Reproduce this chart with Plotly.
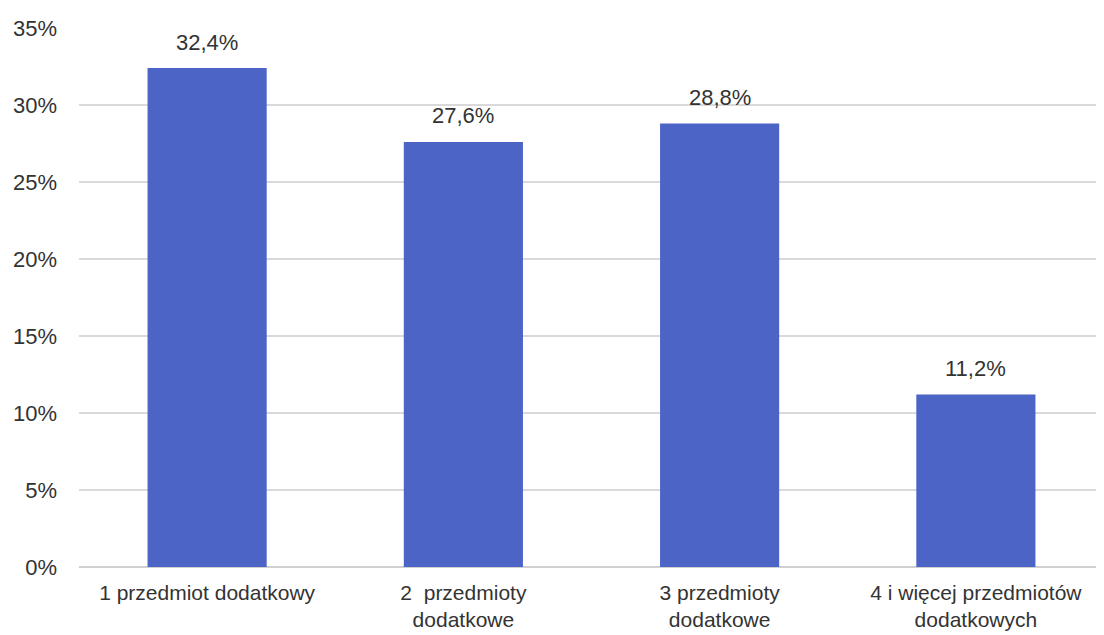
import plotly.graph_objects as go

categories = ["1 przedmiot dodatkowy", "2\u00a0 przedmioty<br>dodatkowe", "3 przedmioty<br>dodatkowe", "4 i więcej przedmiotów<br>dodatkowych"]
values = [32.4, 27.6, 28.8, 11.2]
tick_vals = [0, 5, 10, 15, 20, 25, 30, 35]
tick_text = ["0%", "5%", "10%", "15%", "20%", "25%", "30%", "35%"]
labels = [f"{v:.1f}".replace(".", ",") + "%" for v in values]

FONT = "Liberation Sans, Arial, sans-serif"
TXT = "#333333"

fig = go.Figure(go.Bar(
    x=categories, y=values,
    marker=dict(color="#4d64c7", line=dict(width=0)),
    hoverinfo="x+y",
))
for c, v, t in zip(categories, values, labels):
    fig.add_annotation(x=c, y=v, text=t, showarrow=False, yanchor="middle", yshift=26,
                       font=dict(size=22, color=TXT, family=FONT))

# browser body has an 8px margin; compensate so plot area matches reference
fig.update_layout(
    width=1096, height=627,
    margin=dict(l=71, r=0, t=20, b=68, autoexpand=False),
    paper_bgcolor="white", plot_bgcolor="white",
    bargap=0.535,
    showlegend=False,
    font=dict(family=FONT, size=22, color=TXT),
    yaxis=dict(range=[0, 35], tickvals=tick_vals, ticktext=tick_text,
               showgrid=True, gridcolor="#d9d9d9", gridwidth=2,
               zeroline=True, zerolinecolor="#d0d0d0", zerolinewidth=2,
               ticklabelstandoff=21, automargin=False,
               tickfont=dict(size=22, color=TXT, family=FONT)),
    xaxis=dict(showline=False, ticks="", automargin=False, ticklabelstandoff=11,
               tickfont=dict(size=21, color=TXT, family=FONT)),
)
fig.write_html("out.html")
